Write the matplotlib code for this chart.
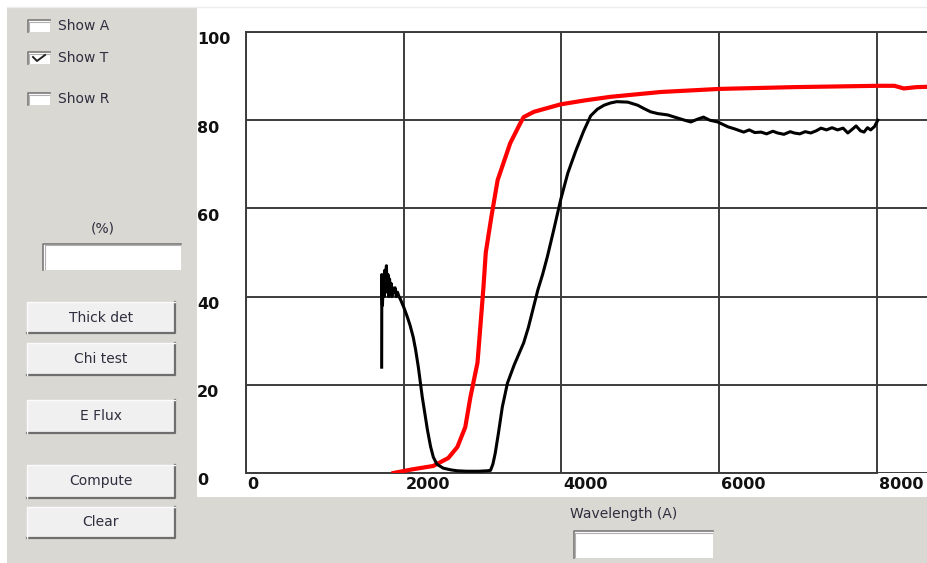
import matplotlib
matplotlib.use("Agg")
import matplotlib.pyplot as plt
from matplotlib.patches import Rectangle
from matplotlib.lines import Line2D
import matplotlib.transforms as mtransforms

# model transmission curve (red)
red_wl = [1870, 2100, 2375, 2565, 2680, 2780, 2845, 2935, 3010, 3040, 3110, 3190,
          3350, 3480, 3520, 3650, 3990, 4300, 4620, 5260, 6010, 6950, 8010, 8220,
          8280, 8340, 8500, 8700]
red_t = [0, 0.8, 1.6, 3.4, 5.9, 10.4, 17.2, 25, 42, 50, 58, 66.4,
         74.8, 79.4, 80.7, 81.9, 83.6, 84.5, 85.3, 86.4, 87.1, 87.5, 87.8, 87.8,
         87.5, 87.2, 87.5, 87.6]

# measured transmission (black)
blk_wl = [1720, 1722, 1730, 1740, 1750, 1760, 1770, 1780, 1790, 1800, 1810, 1820,
          1830, 1840, 1850, 1860, 1875, 1890, 1905, 1920, 1940, 1955, 2000, 2045,
          2080, 2120, 2150, 2185, 2235, 2300, 2340, 2375, 2420, 2500, 2600, 2680,
          2800, 2950, 3060, 3100, 3130, 3160, 3200, 3250, 3315, 3400, 3520, 3580,
          3645, 3700, 3760, 3820, 3900, 3990, 4080, 4180, 4280, 4370, 4455, 4540,
          4620, 4700, 4840, 4965, 5050, 5130, 5220, 5345, 5470, 5560, 5640, 5720,
          5800, 5880, 5980, 6110, 6200, 6310, 6380, 6450, 6530, 6600, 6680, 6740,
          6820, 6900, 6950, 7020, 7090, 7160, 7230, 7290, 7360, 7430, 7500, 7570,
          7630, 7690, 7735, 7790, 7835, 7880, 7920, 7970, 8010]
blk_t = [24, 45, 38, 44, 40, 46, 42, 47, 41, 45, 40, 44,
         41, 43, 40, 42, 41, 42, 40, 41, 40, 39.5, 37.6, 35.4,
         33.5, 30.8, 28, 24, 17.2, 9.8, 6, 3.6, 2, 1.1, 0.7, 0.5,
         0.4, 0.4, 0.5, 0.6, 2, 4.5, 9, 15, 20.4, 24.5, 29.5, 33,
         37.6, 41.5, 45, 49, 55, 62, 68, 73, 77.5, 81, 82.5, 83.4,
         83.9, 84.2, 84.1, 83.4, 82.6, 81.9, 81.5, 81.2, 80.5, 80.0, 79.6, 80.2,
         80.7, 80.0, 79.6, 78.5, 78.0, 77.3, 77.8, 77.2, 77.3, 76.9, 77.5, 77.1,
         76.8, 77.4, 77.1, 76.9, 77.4, 77.1, 77.6, 78.2, 77.8, 78.3, 77.8, 78.2,
         77.1, 78.0, 78.7, 77.6, 77.3, 78.3, 77.8, 78.6, 80]

x_ticks = [0, 2000, 4000, 6000, 8000]
y_ticks = [0, 20, 40, 60, 80, 100]
x_label = "Wavelength (A)"
checkboxes = ["Show A", "Show T", "Show R"]
checked = [False, True, False]
buttons = ["Thick det", "Chi test", "E Flux", "Compute", "Clear"]

W, H = 928, 563
GUI_GRAY = "#dad8d3"
GUI_TEXT = "#2e2e3e"
GUI_FS = 10

fig = plt.figure(figsize=(W / 100, H / 100), dpi=100)
fig.patch.set_facecolor(GUI_GRAY)


def px_rect(x0, y0, x1, y1):
    # pixel box (top-left origin) -> figure fraction rect
    return x0 / W, 1 - y1 / H, (x1 - x0) / W, (y1 - y0) / H


def fx(x):
    return x / W


def fy(y):
    return 1 - y / H


def add_rect(x0, y0, x1, y1, **kw):
    l, b, w, h = px_rect(x0, y0, x1, y1)
    fig.patches.append(Rectangle((l, b), w, h, transform=fig.transFigure, **kw))


def add_line(xs, ys, **kw):
    fig.lines.append(Line2D([fx(v) for v in xs], [fy(v) for v in ys],
                            transform=fig.transFigure, **kw))


# white strips at top and left of the window, white plot panel
add_rect(0, 0, W, 7, facecolor="white", edgecolor="none", zorder=0)
add_rect(0, 0, 7, H, facecolor="white", edgecolor="none", zorder=0)
add_line([7, W], [6.5, 6.5], color="#ececec", lw=1, zorder=1)
add_rect(197, 7, W, 497, facecolor="white", edgecolor="none", zorder=0)


def sunken_box(x0, y0, x1, y1):
    add_rect(x0, y0, x1, y1, facecolor="white", edgecolor="none", zorder=2)
    add_line([x0, x0, x1], [y1, y0, y0], color="#7a7a7a", lw=1.2, zorder=3)
    add_line([x0 + 1.5, x0 + 1.5, x1 - 1], [y1 - 1, y0 + 1.5, y0 + 1.5],
             color="#b0b0b0", lw=0.8, zorder=3)


def button(x0, y0, x1, y1, label):
    add_rect(x0, y0, x1, y1, facecolor="#f0f0f0", edgecolor="none", zorder=2)
    add_line([x0, x1, x1], [y1, y1, y0], color="#6e6e6e", lw=1.6, zorder=3)
    add_line([x0, x0, x1], [y1, y0, y0], color="#fbfbfb", lw=1.0, zorder=3)
    fig.text(fx((x0 + x1) / 2), fy((y0 + y1) / 2), label, ha="center", va="center",
             fontsize=GUI_FS, color=GUI_TEXT, zorder=4)


# checkboxes
for label, is_on, yc in zip(checkboxes, checked, [26, 58, 99]):
    sunken_box(28, yc - 6, 50, yc + 6)
    if is_on:
        add_line([33, 37, 45], [yc - 1, yc + 3, yc - 3], color="#222222", lw=1.4, zorder=4)
    fig.text(fx(58), fy(yc), label, ha="left", va="center", fontsize=GUI_FS,
             color=GUI_TEXT)

fig.text(fx(103), fy(229), "(%)", ha="center", va="center", fontsize=GUI_FS, color=GUI_TEXT)
sunken_box(43, 244, 181, 270)

for label, (y0, y1) in zip(buttons, [(302, 333), (343, 375), (400, 433), (465, 498), (507, 538)]):
    button(27, y0, 175, y1, label)

fig.text(fx(624), fy(514), x_label, ha="center", va="center", fontsize=GUI_FS, color=GUI_TEXT)
sunken_box(574, 531, 713, 558)

# plot axes: x=0 at px 246, x=8000 at px 877; y=0 at px 473, y=100 at px 32
x_px0, x_px8000 = 246, 877
x_right = 8000 * (W - x_px0) / (x_px8000 - x_px0)
ax = fig.add_axes(px_rect(x_px0, 32, W, 473))
ax.set_zorder(5)
ax.set_facecolor("white")
ax.set_xlim(0, x_right)
ax.set_ylim(0, 100)
ax.set_xticks(x_ticks)
ax.set_yticks(y_ticks)
ax.tick_params(length=0, labelbottom=False, labelleft=False)
ax.grid(True, color="#3c3c3c", lw=1.4)
ax.set_axisbelow(True)
for s in ["left", "top", "bottom"]:
    ax.spines[s].set_color("#3c3c3c")
    ax.spines[s].set_linewidth(1.4)
ax.spines["right"].set_visible(False)
ax.spines["bottom"].set_bounds(0, 8000)

ax.plot(red_wl, red_t, color="#ff0000", lw=3.0, zorder=3)
ax.plot(blk_wl, blk_t, color="black", lw=2.2, zorder=4)

# tick labels drawn as in the original widget (left aligned, bold)
tick_font = dict(fontsize=11.5, fontweight="bold", color="#111111", family="DejaVu Sans")
xtr = mtransforms.blended_transform_factory(ax.transData, ax.transAxes)
for v in x_ticks:
    ax.text(v + 20, -0.025, str(v), transform=xtr, ha="left", va="center",
            clip_on=False, **tick_font)
ytr = mtransforms.blended_transform_factory(ax.transAxes, ax.transData)
y_label_x = (197 - x_px0) / (W - x_px0)
for v in y_ticks:
    ax.text(y_label_x, v - 1.8, str(v), transform=ytr, ha="left", va="center",
            clip_on=False, **tick_font)

fig.savefig("out.png", dpi=100, facecolor=fig.get_facecolor())
